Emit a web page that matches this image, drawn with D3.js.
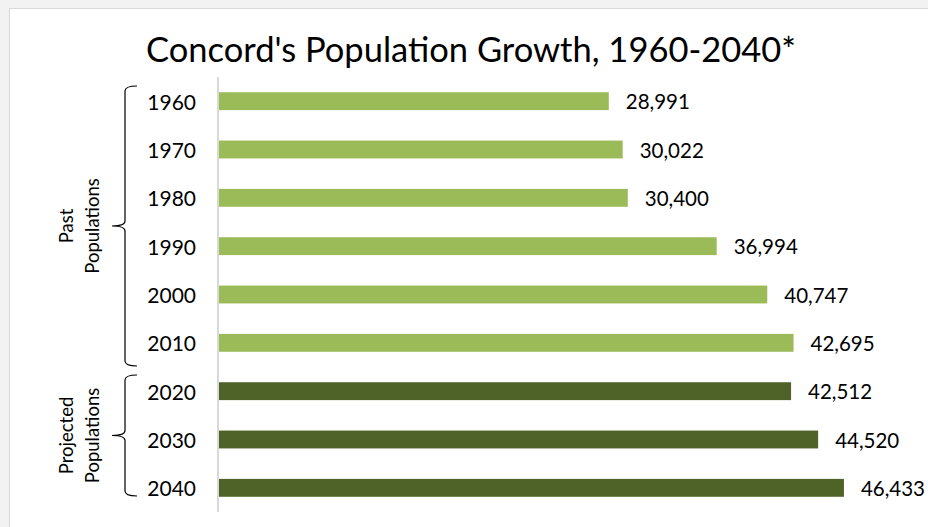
<!DOCTYPE html>
<html>
<head>
<meta charset="utf-8">
<script src="https://cdn.jsdelivr.net/npm/d3@7"></script>
<style>
  body { margin: 0; background: #f2f2f2; }
  svg text { font-family: Lato, "Open Sans", sans-serif; fill: #000; }
</style>
</head>
<body>
<svg id="svg" width="928" height="527"></svg>
<script>
// data
var years = ['1960', '1970', '1980', '1990', '2000', '2010', '2020', '2030', '2040'];
var population = [28991, 30022, 30400, 36994, 40747, 42695, 42512, 44520, 46433];
var projected = [false, false, false, false, false, false, true, true, true];
var groups = [
  { name: ['Past', 'Populations'], from: '1960', to: '2010' },
  { name: ['Projected', 'Populations'], from: '2020', to: '2040' }
];
var title = "Concord's Population Growth, 1960-2040*";

var data = years.map(function (y, i) {
  return { year: y, value: population[i], proj: projected[i] };
});

var width = 928, height = 527;
var plot = { left: 218, right: 892, top: 77, bottom: 512 };

var s = d3.select('#svg');

// white chart area with border
s.append('rect')
  .attr('x', 9.5).attr('y', 8.5)
  .attr('width', width).attr('height', height)
  .attr('fill', '#fff')
  .attr('stroke', '#d9d9d9');

var x = d3.scaleLinear()
  .domain([0, 50000])
  .range([plot.left, plot.right]);

var y = d3.scaleBand()
  .domain(years)
  .range([plot.top, plot.bottom])
  .paddingInner(0.63)
  .paddingOuter(0.315);

s.append('text')
  .attr('x', 471).attr('y', 62)
  .attr('text-anchor', 'middle')
  .style('font-size', '34.5px')
  .text(title);

// bars
s.selectAll('rect.bar')
  .data(data)
  .enter()
  .append('rect')
  .attr('class', 'bar')
  .attr('x', x(0))
  .attr('y', function (d) { return y(d.year); })
  .attr('width', function (d) { return x(d.value) - x(0); })
  .attr('height', y.bandwidth())
  .attr('fill', function (d) { return d.proj ? '#4f6228' : '#9bbb59'; });

// value labels
s.selectAll('text.val')
  .data(data)
  .enter()
  .append('text')
  .attr('class', 'val')
  .attr('x', function (d) { return x(d.value) + 17; })
  .attr('y', function (d) { return y(d.year) + y.bandwidth() / 2 + 1; })
  .attr('dy', '0.35em')
  .style('font-size', '20.5px')
  .text(function (d) { return d3.format(',')(d.value); });

// category axis
var axisY = d3.axisLeft(y).tickSize(0).tickPadding(22);
var ga = s.append('g')
  .attr('transform', 'translate(' + plot.left + ',0)')
  .call(axisY);
ga.select('.domain')
  .attr('stroke', '#d9d9d9')
  .attr('stroke-width', 2)
  .attr('d', 'M0,' + plot.top + 'V' + plot.bottom);
ga.selectAll('text')
  .style('font-size', '21px')
  .attr('dy', '0.4em')
  .style('font-family', 'Lato, "Open Sans", sans-serif');

// group braces
var step = y.step();
groups.forEach(function (g, i) {
  var top = y(g.from) - y.paddingOuter() * step + (i == 0 ? 9 : 8);
  var bot = y(g.to) + y.bandwidth() + y.paddingOuter() * step - (i == 0 ? 1 : 16);
  var mid = (top + bot) / 2;
  var bx = 125, hx = 137, tip = 112, r = 5;
  var path = 'M' + hx + ',' + top +
    'Q' + bx + ',' + top + ' ' + bx + ',' + (top + r) +
    'V' + (mid - r) +
    'Q' + bx + ',' + mid + ' ' + tip + ',' + mid +
    'Q' + bx + ',' + mid + ' ' + bx + ',' + (mid + r) +
    'V' + (bot - r) +
    'Q' + bx + ',' + bot + ' ' + hx + ',' + bot;
  s.append('path')
    .attr('d', path)
    .attr('fill', 'none')
    .attr('stroke', '#000')
    .attr('stroke-width', 1.2);

  var t = s.append('text')
    .attr('transform', 'translate(80,' + mid + ') rotate(-90)')
    .attr('text-anchor', 'middle')
    .style('font-size', '18.5px');
  t.selectAll('tspan')
    .data(g.name)
    .enter()
    .append('tspan')
    .attr('x', 0)
    .attr('y', function (d, k) { return k == 0 ? -7 : 19; })
    .text(function (d) { return d; });
});
</script>
</body>
</html>
